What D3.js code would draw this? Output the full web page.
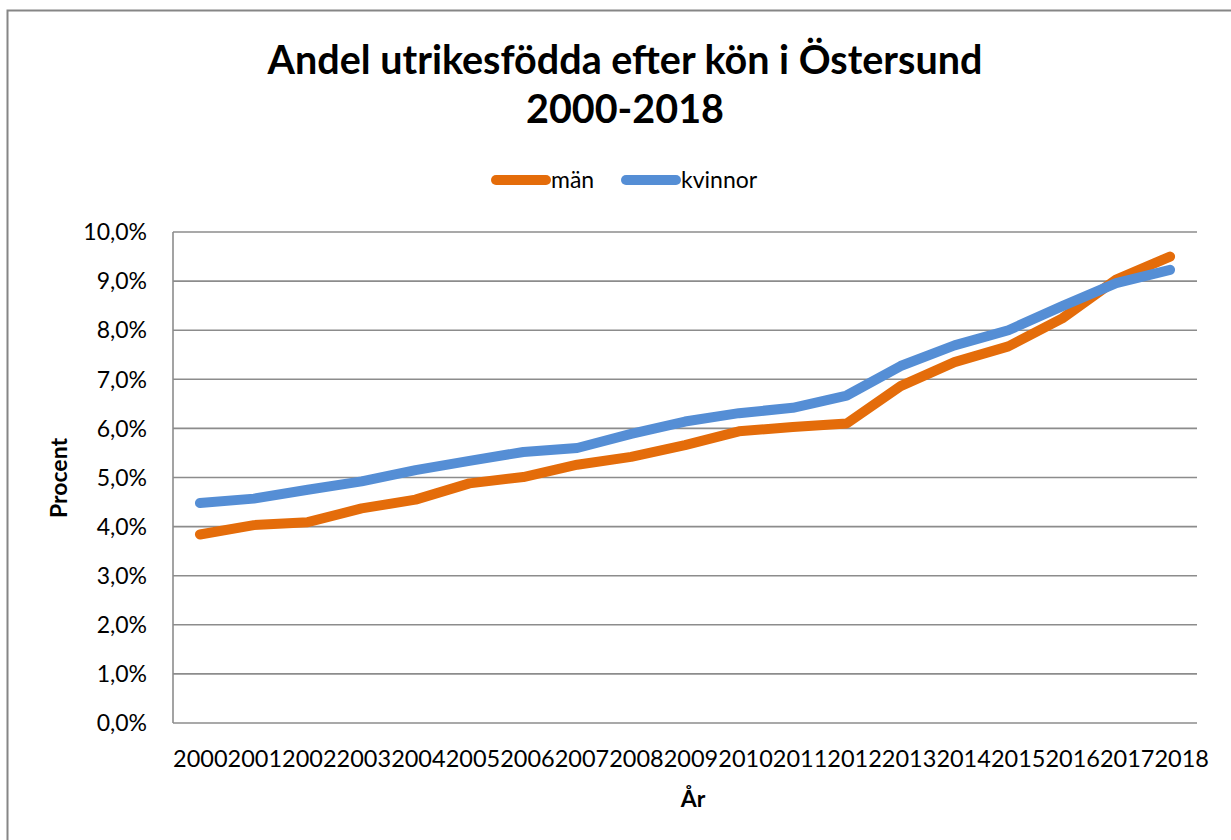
<!DOCTYPE html>
<html><head><meta charset="utf-8">
<script src="https://cdn.jsdelivr.net/npm/d3@7"></script>
<style>body{margin:0;background:#fff}svg{display:block}text{font-family:Lato,"Open Sans",sans-serif;fill:#000}</style>
</head><body>
<svg id="c" width="1231" height="840"></svg>
<script>
const years = ["2000","2001","2002","2003","2004","2005","2006","2007","2008","2009","2010","2011","2012","2013","2014","2015","2016","2017","2018"];
const man = [3.84,4.03,4.09,4.37,4.55,4.88,5.01,5.26,5.42,5.66,5.94,6.03,6.10,6.86,7.35,7.67,8.24,9.03,9.50];
const kvinnor = [4.48,4.57,4.75,4.92,5.15,5.34,5.52,5.60,5.89,6.14,6.31,6.42,6.67,7.27,7.69,8.00,8.49,8.96,9.23];
const yTicks = [0,1,2,3,4,5,6,7,8,9,10];
const seriesNames = ["män","kvinnor"];
const colors = ["#E46C0A","#558ED5"];

const svg = d3.select("#c");
const L = 173, R = 1197, T = 232, B = 723;

// outer border
svg.append("rect").attr("x",7.5).attr("y",10.5).attr("width",1300).attr("height",900)
  .attr("fill","#fff").attr("stroke","#868686").attr("stroke-width",2);

function fit(sel, target){
  const w = sel.node().getComputedTextLength();
  const fs = parseFloat(sel.attr("font-size"));
  sel.attr("font-size", fs*target/w);
}

// title
const t1 = svg.append("text").attr("x",625).attr("y",74).attr("text-anchor","middle")
  .attr("font-weight","bold").attr("font-size",36).text("Andel utrikesfödda efter kön i Östersund");
fit(t1, 715);
svg.append("text").attr("x",625).attr("y",123).attr("text-anchor","middle")
  .attr("font-weight","bold").attr("font-size",t1.attr("font-size")).text("2000-2018");

const x = d3.scaleBand().domain(years).range([L,R]);
const xLab = d3.scaleBand().domain(years).range([173,1209]);
const y = d3.scaleLinear().domain([0,10]).range([B,T]);

// gridlines
svg.append("g").selectAll("line").data(yTicks).join("line")
  .attr("x1",L).attr("x2",R).attr("y1",d=>y(d)).attr("y2",d=>y(d))
  .attr("stroke","#8c8c8c").attr("stroke-width",1.6);
svg.append("line").attr("x1",L).attr("x2",L).attr("y1",T).attr("y2",B)
  .attr("stroke","#8c8c8c").attr("stroke-width",1.6);

// y labels
const fmt = d => d3.format(".1f")(d).replace(".",",")+"%";
svg.append("g").selectAll("text").data(yTicks).join("text")
  .attr("x",147).attr("y",d=>y(d)).attr("dy","0.36em").attr("text-anchor","end")
  .attr("font-size",23).text(fmt);

// x labels
const xl = svg.append("g").selectAll("text").data(years).join("text")
  .attr("x",d=>xLab(d)+xLab.bandwidth()/2).attr("y",767).attr("text-anchor","middle")
  .attr("font-size",22).text(d=>d);
{
  const w = xl.nodes()[0].getComputedTextLength();
  xl.attr("font-size", 22*xLab.bandwidth()/w);
}

// axis titles
svg.append("text").attr("x",693).attr("y",807).attr("text-anchor","middle")
  .attr("font-weight","bold").attr("font-size",23).text("År");
svg.append("text").attr("transform","translate(67,478) rotate(-90)").attr("text-anchor","middle")
  .attr("font-weight","bold").attr("font-size",23).text("Procent");

// lines
const line = d3.line().x((d,i)=>x(years[i])+x.bandwidth()/2).y(d=>y(d));
[man,kvinnor].forEach((s,k)=>{
  svg.append("path").datum(s).attr("d",line).attr("fill","none")
    .attr("stroke",colors[k]).attr("stroke-width",10).attr("stroke-linecap","round").attr("stroke-linejoin","round");
});

// legend
const leg = [{x1:496,x2:546,tx:551},{x1:626,x2:676,tx:681}];
seriesNames.forEach((n,k)=>{
  svg.append("line").attr("x1",leg[k].x1).attr("x2",leg[k].x2).attr("y1",180).attr("y2",180)
    .attr("stroke",colors[k]).attr("stroke-width",10).attr("stroke-linecap","round");
  svg.append("text").attr("x",leg[k].tx).attr("y",180).attr("dy","0.36em").attr("font-size",23).text(n);
});
</script>
</body></html>
